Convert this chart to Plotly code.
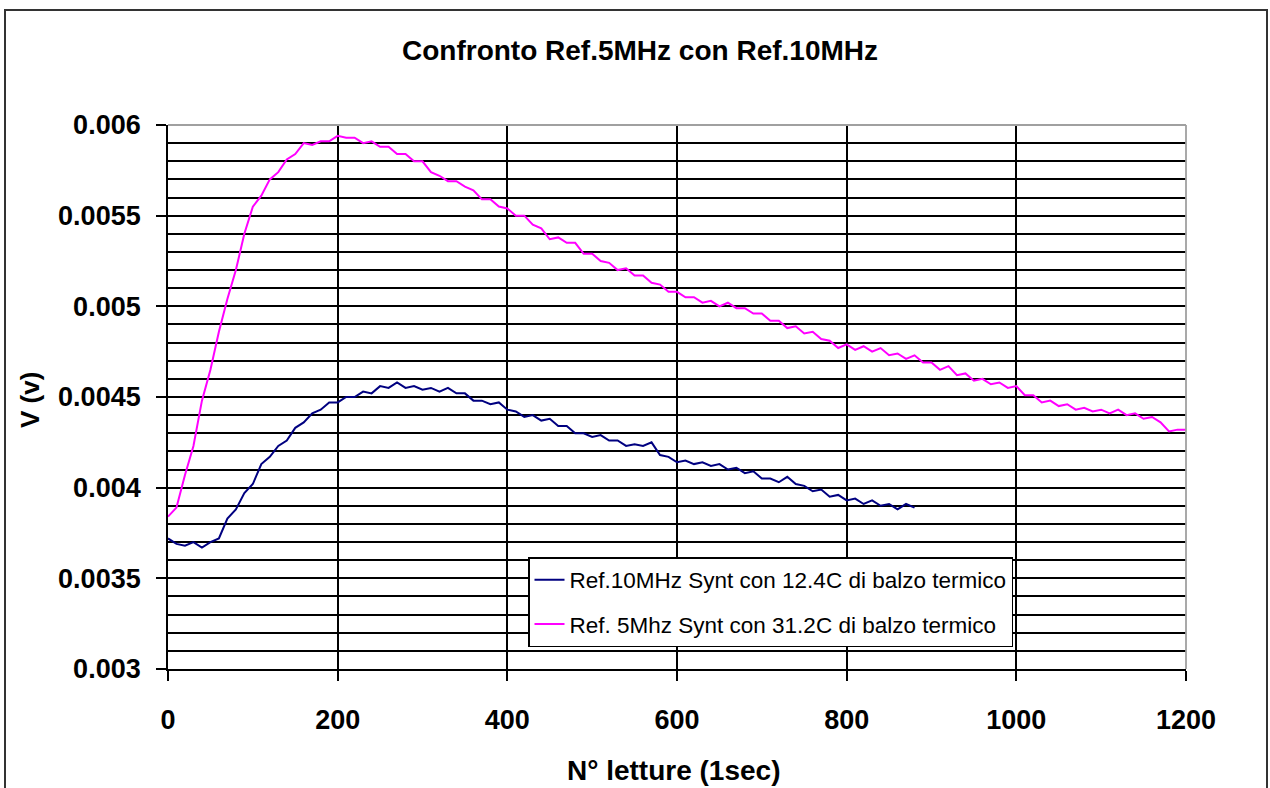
import plotly.graph_objects as go

# ---- data ----
x_mag = list(range(0, 1201, 10))
v_mag = [
    0.00384, 0.00389, 0.00407, 0.00423, 0.00448, 0.00465, 0.00486, 0.00504, 0.00520, 0.00540,
    0.00555, 0.00561, 0.00570, 0.00574, 0.00581, 0.00584, 0.00590, 0.00589, 0.00591, 0.00591,
    0.00594, 0.00593, 0.00593, 0.00590, 0.00591, 0.00588, 0.00588, 0.00584, 0.00584, 0.00580,
    0.00580, 0.00574, 0.00572, 0.00569, 0.00569, 0.00566, 0.00564, 0.00559, 0.00559, 0.00555,
    0.00554, 0.00550, 0.00550, 0.00545, 0.00543, 0.00537, 0.00538, 0.00535, 0.00535, 0.00529,
    0.00529, 0.00525, 0.00524, 0.00520, 0.00521, 0.00517, 0.00517, 0.00513, 0.00512, 0.00508,
    0.00508, 0.00505, 0.00505, 0.00502, 0.00503, 0.00500, 0.00502, 0.00499, 0.00499, 0.00496,
    0.00496, 0.00492, 0.00492, 0.00488, 0.00489, 0.00485, 0.00486, 0.00482, 0.00481, 0.00477,
    0.00479, 0.00476, 0.00478, 0.00475, 0.00477, 0.00473, 0.00474, 0.00471, 0.00473, 0.00469,
    0.00469, 0.00465, 0.00467, 0.00462, 0.00463, 0.00459, 0.00460, 0.00457, 0.00458, 0.00455,
    0.00456, 0.00451, 0.00451, 0.00447, 0.00448, 0.00445, 0.00446, 0.00443, 0.00444, 0.00442,
    0.00443, 0.00441, 0.00443, 0.00440, 0.00441, 0.00438, 0.00439, 0.00436, 0.00431, 0.00432,
    0.00432,
]

x_blu = list(range(0, 881, 10))
v_blu = [
    0.00372, 0.00369, 0.00368, 0.00370, 0.00367, 0.00370, 0.00372, 0.00383, 0.00388, 0.00397,
    0.00402, 0.00413, 0.00417, 0.00423, 0.00426, 0.00433, 0.00436, 0.00441, 0.00443, 0.00447,
    0.00447, 0.00450, 0.00450, 0.00453, 0.00452, 0.00456, 0.00455, 0.00458, 0.00455, 0.00456,
    0.00454, 0.00455, 0.00453, 0.00455, 0.00452, 0.00452, 0.00448, 0.00448, 0.00446, 0.00447,
    0.00443, 0.00442, 0.00439, 0.00440, 0.00437, 0.00438, 0.00434, 0.00434, 0.00430, 0.00430,
    0.00428, 0.00429, 0.00426, 0.00426, 0.00423, 0.00424, 0.00423, 0.00425, 0.00418, 0.00417,
    0.00414, 0.00415, 0.00413, 0.00414, 0.00412, 0.00413, 0.00410, 0.00411, 0.00408, 0.00409,
    0.00405, 0.00405, 0.00403, 0.00406, 0.00402, 0.00401, 0.00398, 0.00399, 0.00395, 0.00396,
    0.00393, 0.00394, 0.00391, 0.00393, 0.00390, 0.00391, 0.00388, 0.00391, 0.00389,
]

name_blu = "Ref.10MHz Synt con 12.4C di balzo termico"
name_mag = "Ref. 5Mhz Synt con 31.2C di balzo termico"
y_ticks = [0.003, 0.0035, 0.004, 0.0045, 0.005, 0.0055, 0.006]
y_tick_text = ["0.003", "0.0035", "0.004", "0.0045", "0.005", "0.0055", "0.006"]
x_ticks = [0, 200, 400, 600, 800, 1000, 1200]

FONT = "Liberation Sans, Arial, sans-serif"

fig = go.Figure()
fig.add_trace(go.Scatter(x=x_blu, y=v_blu, mode="lines", name=name_blu,
                         line=dict(color="#000080", width=2), legendgroup="a"))
fig.add_trace(go.Scatter(x=x_mag, y=v_mag, mode="lines", name=name_mag,
                         line=dict(color="#FF00FF", width=2), legendgroup="b"))

L, R, T, B = 168, 84, 125, 119
GW = 1.8
fig.update_layout(
    width=1270, height=788,
    margin=dict(l=L, r=R, t=T, b=B),
    paper_bgcolor="white", plot_bgcolor="white",
    font=dict(family=FONT, color="black"),
    title=dict(text="<b>Confronto Ref.5MHz con Ref.10MHz</b>", x=640 / 1270, xanchor="center",
               y=1 - 50 / 788, yanchor="middle", font=dict(size=28, family=FONT)),
    showlegend=True,
    legend=dict(x=(528 - L) / 1018, y=(669 - 557) / 544, xanchor="left", yanchor="top",
                bgcolor="white", bordercolor="black", borderwidth=1.5,
                font=dict(size=22.5, family=FONT), tracegroupgap=12,
                traceorder="grouped"),
    xaxis=dict(range=[0, 1200], tickvals=x_ticks, showgrid=True, gridcolor="black", gridwidth=GW,
               showline=True, linecolor="black", linewidth=1.8, ticks="outside", ticklen=10,
               tickcolor="black", tickwidth=1.8, zeroline=False,
               tickfont=dict(size=27, family=FONT, weight="bold"), ticklabelstandoff=16),
    yaxis=dict(range=[0.003, 0.006], tickvals=y_ticks, ticktext=y_tick_text, showgrid=True,
               gridcolor="black", gridwidth=GW, showline=True, linecolor="black", linewidth=1.8,
               ticks="outside", ticklen=10, tickcolor="black", tickwidth=1.8, zeroline=False,
               minor=dict(dtick=0.0001, tick0=0.003, showgrid=True, gridcolor="black",
                          gridwidth=GW, ticks=""),
               tickfont=dict(size=27, family=FONT, weight="bold"), ticklabelstandoff=10),
)

# axis titles
fig.add_annotation(text="<b>N° letture (1sec)</b>", xref="paper", yref="paper",
                   x=(674 - L) / 1018, y=(669 - 770) / 544, xanchor="center", yanchor="middle",
                   showarrow=False, font=dict(size=28, family=FONT))
fig.add_annotation(text="<b>V (v)</b>", xref="paper", yref="paper", textangle=-90,
                   x=(30 - L) / 1018, y=(669 - 400) / 544, xanchor="center", yanchor="middle",
                   showarrow=False, font=dict(size=26, family=FONT))

# plot-area top/right border (gray) and outer chart frame
fig.add_shape(type="line", xref="paper", yref="paper", x0=0, x1=1, y0=1, y1=1,
              line=dict(color="#a0a0a0", width=1.8), layer="above")
fig.add_shape(type="line", xref="paper", yref="paper", x0=1, x1=1, y0=0, y1=1,
              line=dict(color="#a0a0a0", width=1.8), layer="above")
fig.add_shape(type="rect", xref="paper", yref="paper",
              x0=(5 - L) / 1018, x1=(1267 - L) / 1018, y0=(669 - 820) / 544, y1=(669 - 10) / 544,
              line=dict(color="#333333", width=2), fillcolor="rgba(0,0,0,0)", layer="below")

fig.write_html("out.html")
